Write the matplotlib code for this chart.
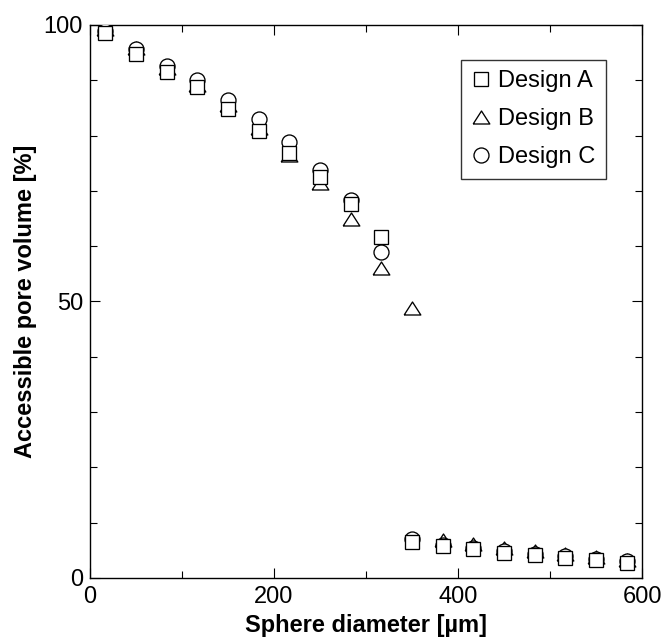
import numpy as np
import matplotlib.pyplot as plt
from matplotlib.ticker import MultipleLocator

plt.rcParams['font.family'] = ['Liberation Sans', 'DejaVu Sans']

# sphere diameter [um]
diameter = [16.7, 50, 83.3, 116.7, 150, 183.3, 216.7, 250, 283.3,
            316.7, 350, 383.3, 416.7, 450, 483.3, 516.7, 550, 583.3]

# accessible pore volume [%]
design_a = [98.5, 94.8, 91.5, 88.7, 84.9, 80.8, 76.9, 72.6, 67.6,
            61.7, 6.5, 5.7, 5.2, 4.6, 4.1, 3.7, 3.3, 2.8]
design_b = [99.2, 95.8, 92.3, 89.2, 85.6, 81.3, 76.5, 71.4, 65.0,
            56.0, 48.8, 6.9, 6.1, 5.5, 4.9, 4.4, 3.8, 3.3]
design_c = [99.0, 95.7, 92.6, 90.1, 86.4, 83.0, 78.9, 73.8, 68.3,
            59.0, 7.1, 6.0, 5.4, 4.8, 4.3, 3.9, 3.5, 3.0]

tri = [(-1, -0.78), (1, -0.78), (0, 0.78), (-1, -0.78)]

fig = plt.figure(figsize=(6.62, 6.41), dpi=100)
ax = fig.add_axes([90 / 662, 1 - 578 / 641, 552 / 662, 553 / 641])

mk = dict(linestyle="none", markerfacecolor="white", markeredgecolor="black",
          markeredgewidth=0.95)
ax.plot(diameter, design_b, marker=tri, markersize=12, label="Design B",
        zorder=2, **mk)
ax.plot(diameter, design_c, marker="o", markersize=10.8, label="Design C",
        zorder=3, **mk)
ax.plot(diameter, design_a, marker="s", markersize=10.5, label="Design A",
        zorder=4, **mk)

ax.set_xlim(0, 600)
ax.set_ylim(0, 100)
ax.xaxis.set_major_locator(MultipleLocator(200))
ax.xaxis.set_minor_locator(MultipleLocator(100))
ax.yaxis.set_major_locator(MultipleLocator(50))
ax.yaxis.set_minor_locator(MultipleLocator(10))
ax.tick_params(which="both", direction="in", top=True, right=True,
               width=0.8, labelsize=17)
ax.tick_params(which="major", length=7)
ax.tick_params(which="minor", length=4.8)
ax.tick_params(axis="x", pad=6)
ax.tick_params(axis="y", pad=5)
for s in ax.spines.values():
    s.set_linewidth(1.0)

ax.set_xlabel("Sphere diameter [µm]", fontsize=17, fontweight="bold", labelpad=4)
ax.set_ylabel("Accessible pore volume [%]", fontsize=17, fontweight="bold", labelpad=5)

h, l = ax.get_legend_handles_labels()
order = [2, 0, 1]
leg = ax.legend([h[i] for i in order], [l[i] for i in order],
                loc="upper right", bbox_to_anchor=(0.934, 0.937),
                borderaxespad=0, fontsize=17, frameon=True, fancybox=False,
                edgecolor="black", handlelength=0.75, handletextpad=0.35,
                borderpad=0.45, labelspacing=0.67, numpoints=1)
leg.get_frame().set_linewidth(1.0)

fig.savefig("out.png", dpi=100)
